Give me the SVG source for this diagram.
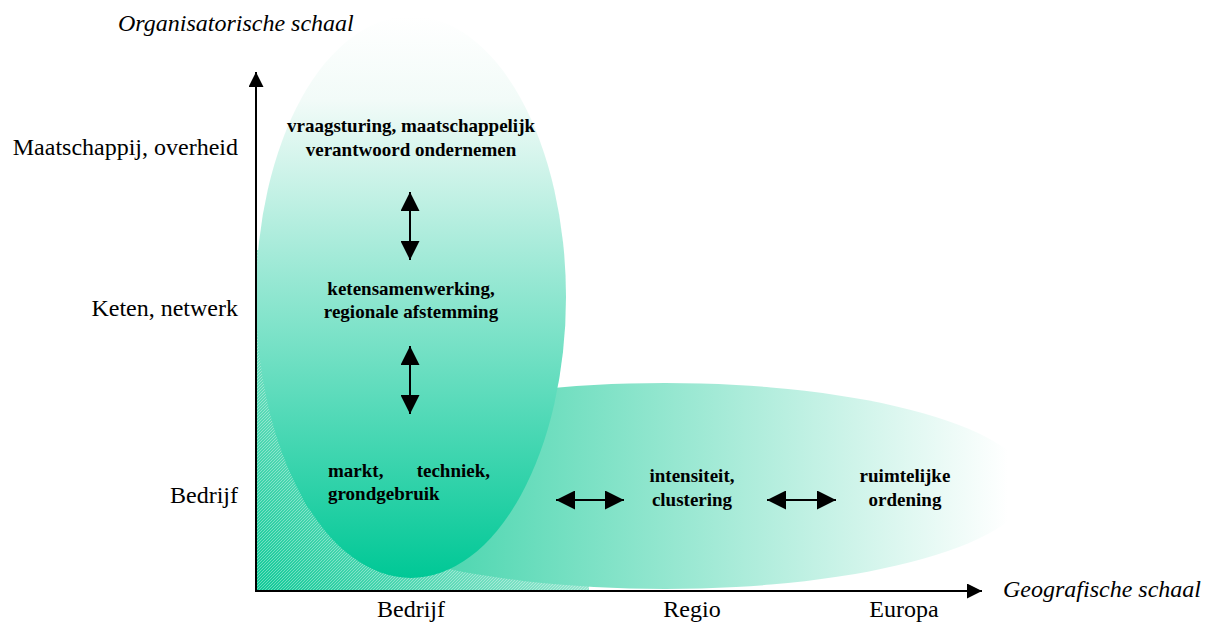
<svg xmlns="http://www.w3.org/2000/svg" width="1212" height="622" viewBox="0 0 1212 622">
  <style>
    .ax { font-family: "Liberation Serif", "Times New Roman", serif; font-size: 24px; fill: #000; }
    .axt { font-family: "Liberation Serif", "Times New Roman", serif; font-size: 24px; font-style: italic; fill: #000; }
    .lbl { font-family: "Liberation Serif", "Times New Roman", serif; font-size: 19px; font-weight: bold; fill: #000; }
    .axis { stroke: #000; stroke-width: 2; fill: none; }
    .dbl { stroke: #000; stroke-width: 2; fill: none; }
  </style>
  <defs>
    <linearGradient id="gVert" x1="0" y1="0" x2="0" y2="1">
      <stop offset="0" stop-color="#ffffff"/>
      <stop offset="0.15" stop-color="#f2fbf8"/>
      <stop offset="1" stop-color="#00c896"/>
    </linearGradient>
    <linearGradient id="gHor" x1="0" y1="0" x2="1" y2="0">
      <stop offset="0" stop-color="#20cc9c"/>
      <stop offset="0.97" stop-color="#ffffff"/>
    </linearGradient>
    <linearGradient id="gCorner" x1="0" y1="1" x2="1" y2="0">
      <stop offset="0" stop-color="#10ca98"/>
      <stop offset="0.75" stop-color="#d8f4ea"/>
      <stop offset="1" stop-color="#ffffff"/>
    </linearGradient>
    <pattern id="hatch" width="3" height="3" patternUnits="userSpaceOnUse">
      <path d="M0,3 L3,0" stroke="#ffffff" stroke-width="0.8" stroke-opacity="0.45"/>
    </pattern>
    <marker id="ahBig" viewBox="0 0 10 10" refX="10" refY="5" markerWidth="19" markerHeight="19" markerUnits="userSpaceOnUse" orient="auto-start-reverse">
      <path d="M0,0 L10,5 L0,10 Z" fill="#000"/>
    </marker>
    <marker id="ahAxis" viewBox="0 0 10 10" refX="10" refY="5" markerWidth="18" markerHeight="15" markerUnits="userSpaceOnUse" orient="auto">
      <path d="M0,0 L10,5 L0,10 Z" fill="#000"/>
    </marker>
  </defs>

  <rect width="1212" height="622" fill="#ffffff"/>

  <!-- shaded corner between the axes -->
  <g id="corner">
    <path d="M257,250 H420 V420 H589 V590 H257 Z" fill="url(#gCorner)"/>
    <path d="M257,250 H420 V420 H589 V590 H257 Z" fill="url(#hatch)"/>
  </g>

  <!-- geographic scale ellipse -->
  <g id="geo-ellipse">
    <ellipse cx="665" cy="486" rx="365" ry="103" fill="url(#gHor)"/>
  </g>

  <!-- organisational scale ellipse -->
  <g id="org-ellipse">
    <ellipse cx="411" cy="297" rx="155" ry="281" fill="url(#gVert)"/>
  </g>

  <!-- axes -->
  <g id="axes">
    <line class="axis" x1="256" y1="591" x2="256" y2="72" marker-end="url(#ahAxis)"/>
    <line class="axis" x1="255" y1="591" x2="982" y2="591" marker-end="url(#ahAxis)"/>
  </g>

  <!-- axis titles and scale labels -->
  <g id="axis-labels">
    <text class="axt" x="118" y="31">Organisatorische schaal</text>
    <text class="axt" x="1003" y="597">Geografische schaal</text>
    <text class="ax" x="238" y="155" text-anchor="end">Maatschappij, overheid</text>
    <text class="ax" x="238" y="316" text-anchor="end">Keten, netwerk</text>
    <text class="ax" x="238" y="503" text-anchor="end">Bedrijf</text>
    <text class="ax" x="411" y="617" text-anchor="middle">Bedrijf</text>
    <text class="ax" x="692" y="617" text-anchor="middle">Regio</text>
    <text class="ax" x="904" y="617" text-anchor="middle">Europa</text>
  </g>

  <g id="node-society">
    <text class="lbl" x="411" y="132" text-anchor="middle">vraagsturing, maatschappelijk</text>
    <text class="lbl" x="411" y="156" text-anchor="middle">verantwoord ondernemen</text>
  </g>

  <g id="node-chain">
    <text class="lbl" x="411" y="295" text-anchor="middle">ketensamenwerking,</text>
    <text class="lbl" x="411" y="318" text-anchor="middle">regionale afstemming</text>
  </g>

  <g id="node-company">
    <text class="lbl" x="328" y="477">markt,</text>
    <text class="lbl" x="490" y="477" text-anchor="end">techniek,</text>
    <text class="lbl" x="328" y="500">grondgebruik</text>
  </g>

  <g id="node-region">
    <text class="lbl" x="692" y="482" text-anchor="middle">intensiteit,</text>
    <text class="lbl" x="692" y="506" text-anchor="middle">clustering</text>
  </g>

  <g id="node-europe">
    <text class="lbl" x="905" y="482" text-anchor="middle">ruimtelijke</text>
    <text class="lbl" x="905" y="506" text-anchor="middle">ordening</text>
  </g>

  <!-- two-way connectors -->
  <g id="connectors">
    <line class="dbl" x1="410" y1="192" x2="410" y2="260" marker-start="url(#ahBig)" marker-end="url(#ahBig)"/>
    <line class="dbl" x1="410" y1="346" x2="410" y2="414" marker-start="url(#ahBig)" marker-end="url(#ahBig)"/>
    <line class="dbl" x1="556" y1="500" x2="624" y2="500" marker-start="url(#ahBig)" marker-end="url(#ahBig)"/>
    <line class="dbl" x1="767" y1="500" x2="836" y2="500" marker-start="url(#ahBig)" marker-end="url(#ahBig)"/>
  </g>
</svg>
